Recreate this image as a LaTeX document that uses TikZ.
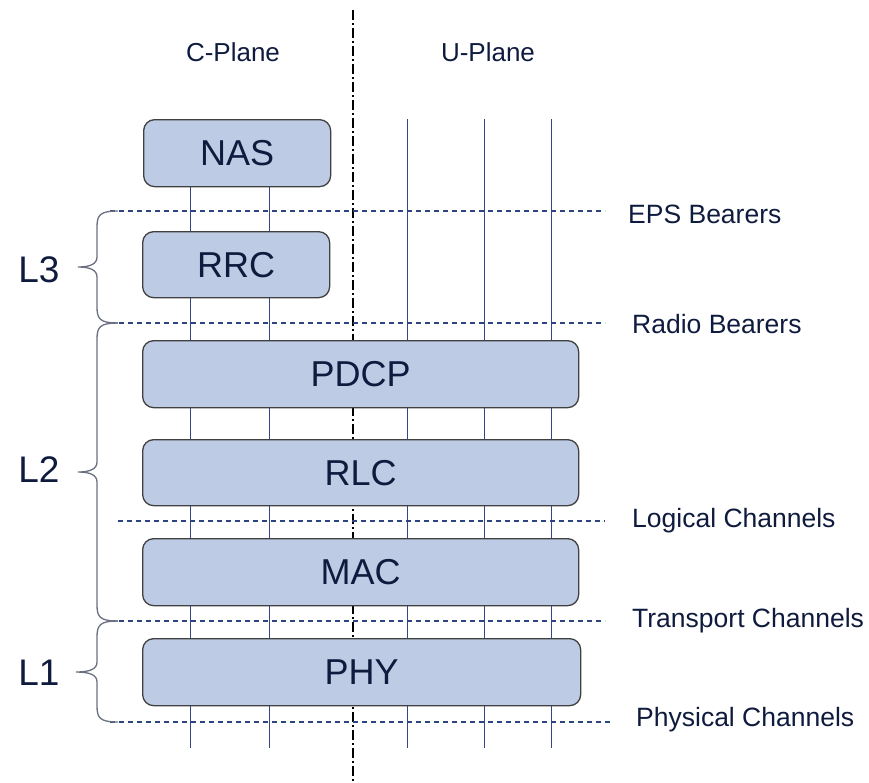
\documentclass[tikz,border=0pt]{standalone}
\usepackage{fontspec}
\setmainfont{Liberation Sans}
\definecolor{boxfill}{HTML}{BDCBE4}
\definecolor{boxline}{HTML}{404040}
\definecolor{txt}{HTML}{0F1B3E}
\definecolor{chanline}{HTML}{34458A}
\definecolor{dashline}{HTML}{2C4580}
\definecolor{bracecol}{HTML}{6A7080}
\begin{document}
\begin{tikzpicture}[x=1pt,y=-1pt,
 layer/.style={draw=boxline, fill=boxfill, rounded corners=11pt, line width=1.3pt, inner sep=0pt, text=txt, font=\fontsize{36}{42}\selectfont, anchor=north west},
 chan/.style={draw=chanline, line width=0.9pt},
 bearer/.style={draw=dashline, line width=1.1pt, dash pattern=on 5pt off 4pt},
 lab/.style={text=txt, font=\fontsize{26.5}{31}\selectfont, anchor=west, inner sep=0pt},
 plane/.style={text=txt, font=\fontsize{26}{31}\selectfont, inner sep=0pt},
 bracepath/.style={draw=bracecol, line width=1.3pt},
 lvl/.style={text=txt, font=\fontsize{37}{42}\selectfont, inner sep=0pt}]
\useasboundingbox (0,0) rectangle (869,782);

% plane divider
\coordinate (divt) at (353,10);
\coordinate (divb) at (353,782);
\draw[line width=2pt, dash pattern=on 10pt off 3pt on 2pt off 3pt] (divt) -- (divb);

\node[plane] (cplane) at (233,52) {C-Plane};
\node[plane] (uplane) at (488,52) {U-Plane};

% channel lines
\coordinate (c1t) at (190,186); \coordinate (c1b) at (190,748);
\coordinate (c2t) at (269,186); \coordinate (c2b) at (269,748);
\coordinate (u1t) at (407,119); \coordinate (u1b) at (407,748);
\coordinate (u2t) at (484,119); \coordinate (u2b) at (484,748);
\coordinate (u3t) at (551,119); \coordinate (u3b) at (551,748);
\draw[chan] (c1t) -- (c1b);
\draw[chan] (c2t) -- (c2b);
\draw[chan] (u1t) -- (u1b);
\draw[chan] (u2t) -- (u2b);
\draw[chan] (u3t) -- (u3b);

% layers
\node[layer, minimum width=187pt, minimum height=67pt] (nas) at (143,119) {NAS};
\node[layer, minimum width=187pt, minimum height=66pt] (rrc) at (142,231) {RRC};
\node[layer, minimum width=436pt, minimum height=67pt] (pdcp) at (142,340) {PDCP};
\node[layer, minimum width=436pt, minimum height=66pt] (rlc) at (142,439) {RLC};
\node[layer, minimum width=436pt, minimum height=67pt] (mac) at (142,538) {MAC};
\node[layer, minimum width=438pt, minimum height=67pt] (phy) at (142,638) {PHY};

% bearer / channel boundaries
\coordinate (epsl) at (110,211); \coordinate (epsr) at (605,211);
\coordinate (rbl) at (110,323); \coordinate (rbr) at (605,323);
\coordinate (lcl) at (118,521); \coordinate (lcr) at (605,521);
\coordinate (tcl) at (110,621); \coordinate (tcr) at (605,621);
\coordinate (pcl) at (110,722); \coordinate (pcr) at (610,722);
\draw[bearer] (epsl) -- (epsr);
\draw[bearer] (rbl) -- (rbr);
\draw[bearer] (lcl) -- (lcr);
\draw[bearer] (tcl) -- (tcr);
\draw[bearer] (pcl) -- (pcr);

\node[lab] (eps) at (628,214) {EPS Bearers};
\node[lab] (rb) at (632,324) {Radio Bearers};
\node[lab] (lc) at (632,521) {Logical Channels};
\node[lab] (tc) at (632,621) {Transport Channels};
\node[lab] (pc) at (636,720) {Physical Channels};

% braces
\draw[bracepath] (118,211) .. controls (100,211) and (97,215) .. (97,227) -- (97,257)
  .. controls (97,264) and (90,267) .. (78,267) .. controls (90,267) and (97,270) .. (97,277)
  -- (97,307) .. controls (97,319) and (100,323) .. (118,323);
\draw[bracepath] (118,323) .. controls (100,323) and (97,327) .. (97,339) -- (97,462)
  .. controls (97,469) and (90,472) .. (78,472) .. controls (90,472) and (97,475) .. (97,482)
  -- (97,605) .. controls (97,617) and (100,621) .. (118,621);
\draw[bracepath] (118,621) .. controls (100,621) and (97,625) .. (97,637) -- (97,662)
  .. controls (97,669) and (90,672) .. (76,672) .. controls (90,672) and (97,675) .. (97,682)
  -- (97,706) .. controls (97,718) and (100,722) .. (118,722);

\node[lvl] (l3) at (39,270) {L3};
\node[lvl] (l2) at (39,470) {L2};
\node[lvl] (l1) at (39,673) {L1};
\end{tikzpicture}
\end{document}
